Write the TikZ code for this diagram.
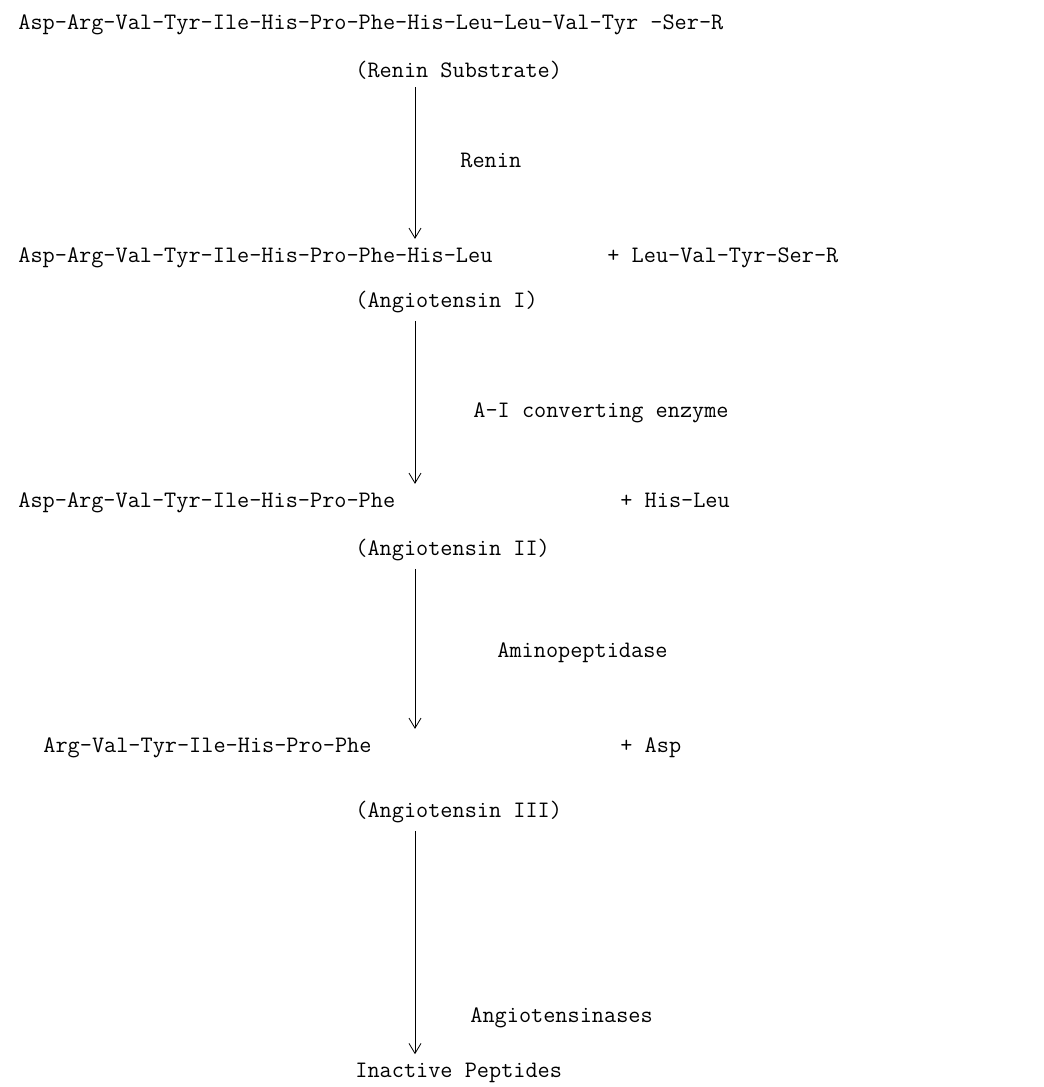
\documentclass[tikz,border=0pt]{standalone}
\usepackage{fontspec}
\usetikzlibrary{arrows.meta}
\begin{document}
\begin{tikzpicture}[x=0.5pt,y=-0.5pt,
  every node/.style={inner sep=0pt,anchor=base west,
    font=\ttfamily\fontsize{11.8}{14}\selectfont},
  rxn/.style={thin,shorten <=4pt,shorten >=4pt,
    -{Straight Barb[length=5pt,width=6pt]}}]
  \useasboundingbox (0,0) rectangle (1044,1087);
  % renin substrate
  \node (subs)  at (18,29)   {Asp-Arg-Val-Tyr-Ile-His-Pro-Phe-His-Leu-Leu-Val-Tyr -Ser-R};
  \node (subsn) at (355,77)  {(Renin Substrate)};
  \node (renin) at (460,167) {Renin};
  % angiotensin I
  \node (ang1)  at (18,262)  {Asp-Arg-Val-Tyr-Ile-His-Pro-Phe-His-Leu};
  \node (frag1) at (607,262) {+ Leu-Val-Tyr-Ser-R};
  \node (ang1n) at (355,307) {(Angiotensin I)};
  \node (ace)   at (473,417) {A-I converting enzyme};
  % angiotensin II
  \node (ang2)  at (18,507)  {Asp-Arg-Val-Tyr-Ile-His-Pro-Phe};
  \node (frag2) at (620,507) {+ His-Leu};
  \node (ang2n) at (355,555) {(Angiotensin II)};
  \node (amp)   at (497,657) {Aminopeptidase};
  % angiotensin III
  \node (ang3)  at (43,752)  {Arg-Val-Tyr-Ile-His-Pro-Phe};
  \node (frag3) at (620,752) {+ Asp};
  \node (ang3n) at (355,817) {(Angiotensin III)};
  \node (ases)  at (470,1022) {Angiotensinases};
  \node (inact) at (355,1077) {Inactive Peptides};

  \draw[rxn] ([xshift=30pt]subsn.south west) -- ([xshift=30pt]subsn.south west |- ang1.north);
  \draw[rxn] ([xshift=30pt]ang1n.south west) -- ([xshift=30pt]ang1n.south west |- ang2.north);
  \draw[rxn] ([xshift=30pt]ang2n.south west) -- ([xshift=30pt]ang2n.south west |- ang3.north);
  \draw[rxn] ([xshift=30pt]ang3n.south west) -- ([xshift=30pt]ang3n.south west |- inact.north);
\end{tikzpicture}
\end{document}
